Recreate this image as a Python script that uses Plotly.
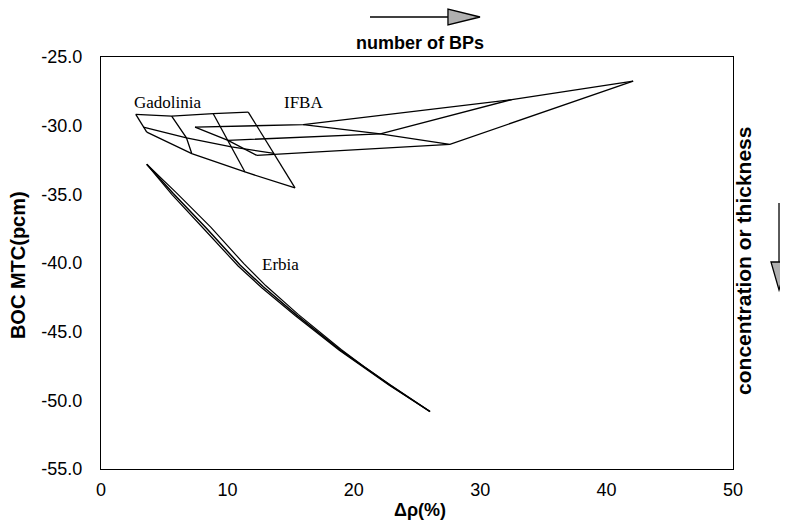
import plotly.graph_objects as go

# ---------------- data ----------------
# Gadolinia: rows = concentration level, points = number of BPs
gad_r1_x = [2.75, 5.59, 8.88, 11.65]
gad_r1_y = [-29.18, -29.30, -29.13, -29.01]
gad_r2_x = [3.35, 6.76, 10.32, 13.69]
gad_r2_y = [-30.10, -30.89, -31.54, -32.02]
gad_r3_x = [3.62, 7.18, 11.39, 15.35]
gad_r3_y = [-30.47, -32.03, -33.37, -34.53]

# IFBA: rows = thickness level, columns = number of BPs
ifba_r1_x = [7.44, 16.0, 32.5, 42.1]
ifba_r1_y = [-30.10, -29.93, -28.10, -26.76]
ifba_r2_x = [10.05, 22.1, 32.5]
ifba_r2_y = [-31.07, -30.60, -28.10]
ifba_r3_x = [12.32, 27.6, 42.1]
ifba_r3_y = [-32.16, -31.36, -26.76]
ifba_c1_x = [7.44, 10.05, 12.32]
ifba_c1_y = [-30.10, -31.07, -32.16]
ifba_c2_x = [16.0, 22.1, 27.6]
ifba_c2_y = [-29.93, -30.60, -31.36]

# Erbia: bundle of nearly coincident curves
erb_a_x = [3.62, 5.72, 8.36, 11.0, 12.84, 15.48, 18.91, 20.75, 22.86, 26.03]
erb_a_y = [-32.81, -34.94, -37.49, -40.15, -41.73, -43.79, -46.33, -47.55, -48.89, -50.82]
erb_b_x = [3.62, 5.95, 8.70, 11.30, 13.05, 15.60, 19.00, 20.80, 22.90, 26.03]
erb_b_y = [-32.81, -34.88, -37.40, -40.05, -41.66, -43.74, -46.30, -47.53, -48.88, -50.82]
erb_c_x = [3.62, 5.60, 8.20, 10.85, 12.72, 15.38, 18.85, 20.70, 22.80, 26.03]
erb_c_y = [-32.81, -35.00, -37.58, -40.22, -41.80, -43.84, -46.36, -47.57, -48.90, -50.82]

x_ticks = [0, 10, 20, 30, 40, 50]
y_ticks = [-25.0, -30.0, -35.0, -40.0, -45.0, -50.0, -55.0]

# ---------------- figure ----------------
fig = go.Figure()

def add_line(x, y, w=1.3):
    fig.add_trace(go.Scatter(x=x, y=y, mode="lines",
                             line=dict(color="black", width=w),
                             showlegend=False, hoverinfo="skip"))

# Gadolinia rows
add_line(gad_r1_x, gad_r1_y)
add_line(gad_r2_x, gad_r2_y)
add_line(gad_r3_x, gad_r3_y)
# Gadolinia columns
for i in range(4):
    add_line([gad_r1_x[i], gad_r2_x[i], gad_r3_x[i]],
             [gad_r1_y[i], gad_r2_y[i], gad_r3_y[i]])

# IFBA
add_line(ifba_r1_x, ifba_r1_y)
add_line(ifba_r2_x, ifba_r2_y)
add_line(ifba_r3_x, ifba_r3_y)
add_line(ifba_c1_x, ifba_c1_y)
add_line(ifba_c2_x, ifba_c2_y)

# Erbia
add_line(erb_a_x, erb_a_y, 1.5)
add_line(erb_b_x, erb_b_y, 1.2)
add_line(erb_c_x, erb_c_y, 1.2)

serif = "Liberation Serif, Times New Roman, serif"
sans = "Liberation Sans, Arial, sans-serif"

annotations = [
    dict(x=5.3, y=-28.3, text="Gadolinia", showarrow=False, xref="x", yref="y",
         xanchor="center", yanchor="middle",
         font=dict(family=serif, size=17, color="black")),
    dict(x=16.0, y=-28.3, text="IFBA", showarrow=False, xref="x", yref="y",
         xanchor="center", yanchor="middle",
         font=dict(family=serif, size=17, color="black")),
    dict(x=14.2, y=-40.1, text="Erbia", showarrow=False, xref="x", yref="y",
         xanchor="center", yanchor="middle",
         font=dict(family=serif, size=17, color="black")),
    dict(x=0.5047, y=1.034, text="<b>number of BPs</b>", showarrow=False,
         xref="paper", yref="paper", xanchor="center", yanchor="middle",
         font=dict(family=sans, size=18, color="black")),
    dict(x=1.0174, y=0.505, text="<b>concentration or thickness</b>", showarrow=False,
         xref="paper", yref="paper", textangle=-90, xanchor="center", yanchor="middle",
         font=dict(family=sans, size=21, color="black")),
    dict(x=-0.1313, y=0.495, text="<b>BOC MTC(pcm)</b>", showarrow=False,
         xref="paper", yref="paper", textangle=-90, xanchor="center", yanchor="middle",
         font=dict(family=sans, size=20, color="black")),
    dict(x=0.5047, y=-0.0995, text="<b>Δρ(%)</b>", showarrow=False,
         xref="paper", yref="paper", xanchor="center", yanchor="middle",
         font=dict(family=sans, size=18, color="black")),
]

shapes = [
    # top arrow
    dict(type="line", xref="paper", yref="paper", x0=0.4256, y0=1.0971, x1=0.549, y1=1.0971,
         line=dict(color="black", width=1.3)),
    dict(type="path", xref="paper", yref="paper",
         path="M 0.549 1.1165 L 0.549 1.0777 L 0.5997 1.0971 Z",
         fillcolor="#b0b0b0", line=dict(color="black", width=1.3)),
    # right arrow
    dict(type="line", xref="paper", yref="paper", x0=1.0728, y0=0.6456, x1=1.0728, y1=0.5024,
         line=dict(color="black", width=1.3)),
    dict(type="path", xref="paper", yref="paper",
         path="M 1.0601 0.5024 L 1.0855 0.5024 L 1.0728 0.4345 Z",
         fillcolor="#b0b0b0", line=dict(color="black", width=1.3)),
]

fig.update_layout(
    width=780, height=520,
    margin=dict(l=93, r=55, t=49, b=59, autoexpand=False),
    paper_bgcolor="white", plot_bgcolor="white",
    showlegend=False,
    annotations=annotations,
    shapes=shapes,
    xaxis=dict(range=[0, 50], tickvals=x_ticks, ticktext=[str(v) for v in x_ticks],
               showgrid=False, zeroline=False, showline=True, linecolor="black",
               linewidth=1.3, mirror=True, ticks="", ticklabelstandoff=4,
               tickfont=dict(family=sans, size=18, color="black")),
    yaxis=dict(range=[-55, -25], tickvals=y_ticks, ticktext=[f"{v:.1f}" for v in y_ticks],
               showgrid=False, zeroline=False, showline=True, linecolor="black",
               linewidth=1.3, mirror=True, ticks="", ticklabelstandoff=14,
               tickfont=dict(family=sans, size=18, color="black")),
)

fig.write_html("out.html")
